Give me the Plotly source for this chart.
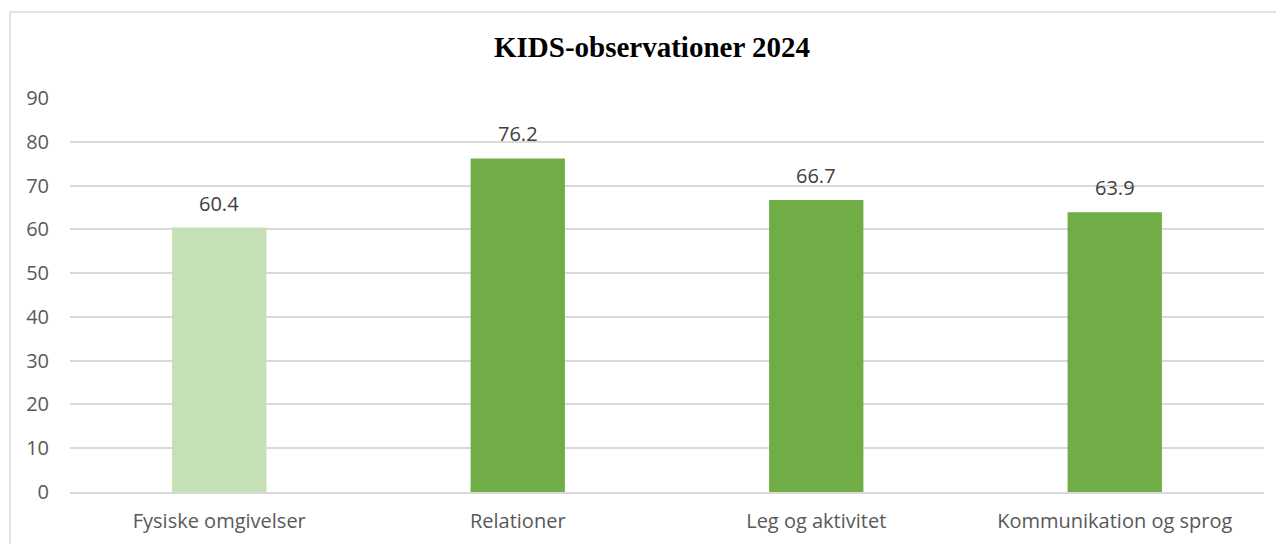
import plotly.graph_objects as go

categories = ["Fysiske omgivelser", "Relationer", "Leg og aktivitet", "Kommunikation og sprog"]
values = [60.4, 76.2, 66.7, 63.9]
bar_colors = ["#C5E0B4", "#70AD47", "#70AD47", "#70AD47"]
tick_vals = [0, 10, 20, 30, 40, 50, 60, 70, 80, 90]

W, H = 1284, 544
OFF = 8  # page body margin
L, T = 70 - OFF, 98 - OFF
pw, ph = 1194, 394
R = W - L - pw
B = H - T - ph

FONT = "Open Sans, Calibri, Carlito, sans-serif"

fig = go.Figure(go.Bar(
    x=categories, y=values,
    marker=dict(color=bar_colors, line=dict(width=0)),
    width=0.316,
    cliponaxis=False,
))

for c, v in zip(categories, values):
    fig.add_annotation(x=c, y=v, xref="x", yref="y", text=f"{v:.1f}", showarrow=False,
                       yanchor="bottom", yshift=9,
                       font=dict(family=FONT, size=20, color="#404040"))

fig.update_layout(
    width=W, height=H,
    margin=dict(l=L, r=R, t=T, b=B),
    paper_bgcolor="white", plot_bgcolor="white",
    showlegend=False,
    title=dict(text="<b>KIDS-observationer 2024</b>", x=(652 - OFF) / W, xanchor="center",
               y=1 - (47 - OFF) / H, yanchor="middle",
               font=dict(family="Liberation Serif, Times New Roman, serif", size=29, color="black")),
    font=dict(family=FONT, size=20, color="#595959"),
)
fig.update_yaxes(range=[0, 90], tickvals=tick_vals, showgrid=True, gridcolor="#D9D9D9", gridwidth=1.5,
                 zeroline=False, showline=False, ticks="", ticklabelstandoff=20,
                 tickfont=dict(family=FONT, size=20, color="#595959"))
fig.update_xaxes(showline=True, linecolor="#D9D9D9", linewidth=1.5, ticks="", ticklabelstandoff=10,
                 tickfont=dict(family=FONT, size=20, color="#595959"))

# outer chart frame
fig.add_shape(type="rect", xref="paper", yref="paper",
              x0=(10 - 70) / pw, x1=(W + 30 - 70) / pw,
              y0=-(H + 30 - 98 - ph) / ph, y1=1 + (98 - 12) / ph,
              line=dict(color="#D9D9D9", width=1.5), layer="below")

fig.write_html("out.html")
